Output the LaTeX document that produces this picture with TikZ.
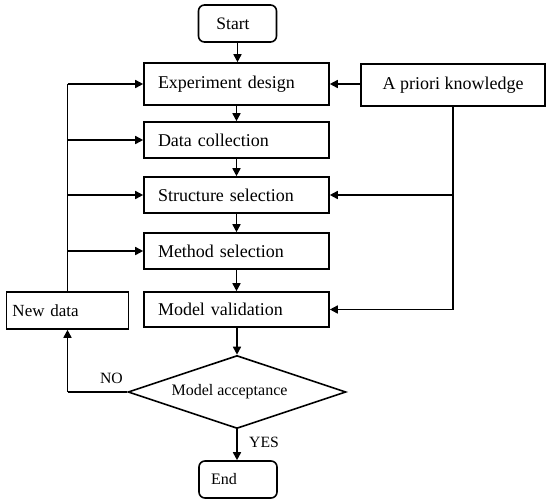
\documentclass[tikz,border=0pt]{standalone}
\usepackage{fontspec}
\setmainfont{Liberation Serif}
\usetikzlibrary{arrows.meta,shapes.geometric}
\begin{document}
\begin{tikzpicture}[x=1pt,y=-1pt,
  every node/.style={font=\fontsize{18}{21}\selectfont},
  stepbox/.style={draw,line width=1.6pt,minimum height=36pt,text width=157pt,inner xsep=14pt,align=left,inner ysep=0pt},
  endbox/.style={draw,line width=1.6pt,rounded corners=6pt,minimum width=78pt,minimum height=37pt,inner sep=0pt},
  decbox/.style={draw,diamond,line width=1.6pt,minimum width=218pt,minimum height=73pt,inner sep=0pt,aspect=3,font=\fontsize{16}{19}\selectfont},
  lab/.style={font=\fontsize{15.7}{18}\selectfont,inner sep=0pt},
  arr/.style={line width=1.6pt,-{Triangle[length=8pt,width=8pt]}},
  ln/.style={line width=1.6pt}]
\useasboundingbox (0,0) rectangle (550,504);
\node[endbox,font=\fontsize{17.5}{20}\selectfont] (start) at (237.5,23.5) {Start\rule{9pt}{0pt}};
\node[stepbox,minimum height=42pt] (exp) at (236.5,84) {Experiment design};
\node[draw,line width=1.6pt,minimum width=184pt,minimum height=42pt,inner sep=0pt] (apk) at (453,85) {A priori knowledge};
\node[stepbox] (dat) at (236.5,140) {Data collection};
\node[stepbox] (str) at (236.5,195) {Structure selection};
\node[stepbox] (met) at (236.5,251) {Method selection};
\node[stepbox,minimum height=35pt] (val) at (236.5,309.5) {Model validation};
\node[draw,line width=1.6pt,minimum width=122pt,minimum height=37pt,text width=110pt,inner xsep=6pt,align=left,inner ysep=0pt,font=\fontsize{17}{20}\selectfont] (new) at (67.5,310.5) {\raisebox{-3pt}{New data}};
\node[decbox] (acc) at (237,392) {Model acceptance\rule{15pt}{0pt}};
\node[endbox,font=\fontsize{16}{19}\selectfont] (end) at (238,479.5) {End\rule{28pt}{0pt}};
\node[lab] (no) at (111.5,378) {NO};
\node[lab,anchor=west] (yes) at (249,442) {YES};
% main flow
\draw[arr] (start.south) -- (exp.north -| start.south);
\draw[arr] (exp) -- (dat);
\draw[arr] (dat) -- (str);
\draw[arr] (str) -- (met);
\draw[arr] (met) -- (val);
\draw[arr] (val.south -| acc.north) -- (acc.north);
\draw[arr] (acc.south) -- (end.north -| acc.south);
% a priori knowledge
\draw[arr] (apk.west |- exp.east) -- (exp.east);
\coordinate (apkstr) at (apk.south |- str.east);
\coordinate (apkval) at (apk.south |- val.east);
\draw[ln] (apk.south) -- (apkval);
\draw[arr] (apkstr) -- (str.east);
\draw[arr] (apkval) -- (val.east);
% feedback
\coordinate (fbtop) at (new.north |- exp.west);
\draw[ln] (new.north) -- (fbtop);
\draw[arr] (fbtop) -- (exp.west);
\draw[arr] (new.north |- dat.west) -- (dat.west);
\draw[arr] (new.north |- str.west) -- (str.west);
\draw[arr] (new.north |- met.west) -- (met.west);
\coordinate (nocorner) at (new.south |- acc.west);
\draw[ln] (acc.west) -- (nocorner);
\draw[arr] (nocorner) -- (new.south);
\end{tikzpicture}
\end{document}
